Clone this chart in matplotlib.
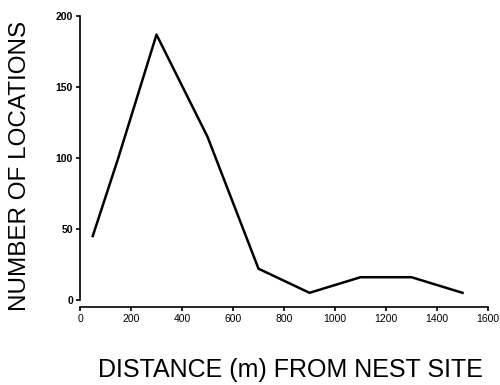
import matplotlib
matplotlib.use("Agg")
import matplotlib.pyplot as plt

# distance from nest site (m) and number of locations
distance = [50, 150, 300, 500, 700, 900, 1100, 1300, 1500]
locations = [45, 100, 187, 115, 22, 5, 16, 16, 5]

x_ticks = [0, 200, 400, 600, 800, 1000, 1200, 1400, 1600]
y_ticks = [0, 50, 100, 150, 200]

plt.rcParams['font.family'] = ['Liberation Sans', 'DejaVu Sans']

fig = plt.figure(figsize=(5, 3.85), dpi=100)
ax = fig.add_axes([0.16, 0.221, 0.816, 0.737])

ax.plot(distance, locations, color='black', linewidth=1.8)

ax.set_xlim(0, 1600)
ax.set_ylim(0, 200)
ax.set_xticks(x_ticks)
ax.set_yticks(y_ticks)
ax.tick_params(axis='both', labelsize=7.5, length=3, width=1.2, direction='out', pad=2)
for lab in ax.get_xticklabels() + ax.get_yticklabels():
    lab.set_fontweight('bold')

ax.spines['top'].set_visible(False)
ax.spines['right'].set_visible(False)
ax.spines['left'].set_linewidth(1.2)
ax.spines['bottom'].set_linewidth(1.2)
ax.spines['bottom'].set_position(('outward', 5))

fig.text(0.04, 0.57, "NUMBER OF LOCATIONS", rotation=90, ha='center', va='center', fontsize=17.5)
fig.text(0.581, 0.039, "DISTANCE (m) FROM NEST SITE", ha='center', va='center', fontsize=18)

plt.savefig("out.png", dpi=100)
